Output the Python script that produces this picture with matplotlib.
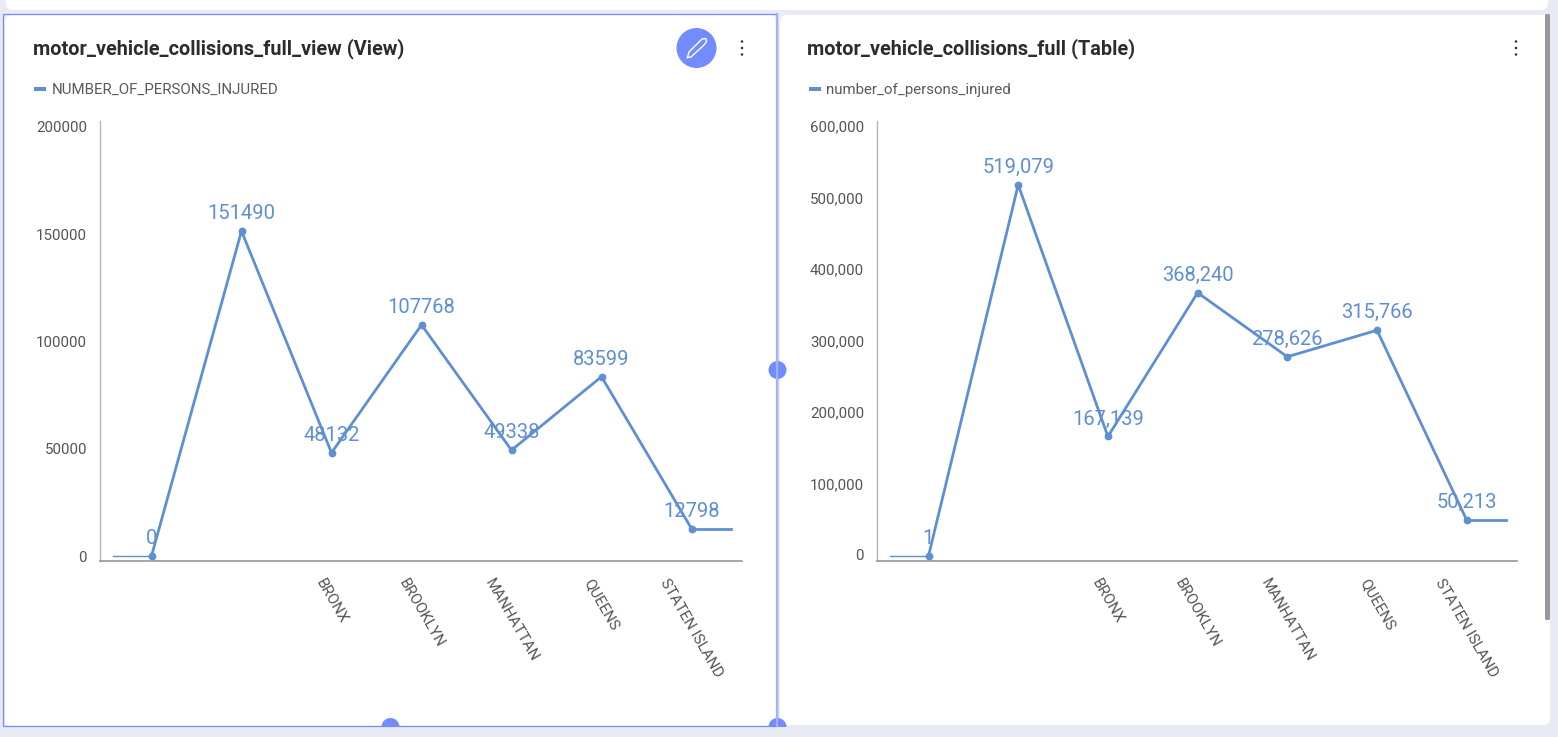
import matplotlib
matplotlib.use("Agg")
import matplotlib.pyplot as plt
from matplotlib.patches import Circle, FancyBboxPatch, Rectangle
from matplotlib.transforms import ScaledTranslation

plt.rcParams["font.family"] = ["Roboto", "DejaVu Sans"]

W, H = 1558, 737
BLUE = "#5f8fd3"
ACCENT = "#728dfb"

categories = ["", "", "BRONX", "BROOKLYN", "MANHATTAN", "QUEENS", "STATEN ISLAND"]

view_values = [0, 151490, 48132, 107768, 49338, 83599, 12798]
view_ticks = [0, 50000, 100000, 150000, 200000]
view_tick_labels = ["0", "50000", "100000", "150000", "200000"]
view_point_labels = ["0", "151490", "48132", "107768", "49338", "83599", "12798"]

table_values = [1, 519079, 167139, 368240, 278626, 315766, 50213]
table_ticks = [0, 100000, 200000, 300000, 400000, 500000, 600000]
table_tick_labels = ["0", "100,000", "200,000", "300,000", "400,000", "500,000", "600,000"]
table_point_labels = ["1", "519,079", "167,139", "368,240", "278,626", "315,766", "50,213"]


def card(bg, x0, y0, x1, y1, radius=7):
    bg.add_patch(FancyBboxPatch((x0 + radius, y0 + radius), x1 - x0 - 2 * radius, y1 - y0 - 2 * radius,
                                boxstyle="round,pad=%d,rounding_size=%d" % (radius, radius),
                                fc="white", ec="none"))


def dots(bg, x):
    for y in [41.5, 48, 54.5]:
        bg.add_patch(Circle((x, y), 1.3, fc="#3c3c3c", ec="none"))


def chart(left, right, first_x, step, values, ticks, tick_labels, point_labels, per_unit, nudge_px):
    # axes box is placed in pixels, y=0 of the data sits at pixel row 556
    top, bottom, zero = 121, 561, 556
    ax = fig.add_axes([left / W, 1 - bottom / H, (right - left) / W, (bottom - top) / H])
    ax.patch.set_alpha(0)
    ax.set_xlim((left - first_x) / step, (right - first_x) / step)
    ax.set_ylim((zero - bottom) / per_unit, (zero - top) / per_unit)

    xs = list(range(len(values)))
    ax.plot(xs, values, color=BLUE, lw=2.0, marker="o", ms=4.6, mec=BLUE, clip_on=False)
    # short stubs either side of the line
    ax.plot([xs[0] - 0.43, xs[0] - 0.03], [values[0], values[0]], color=BLUE, lw=1.0, clip_on=False)
    ax.plot([xs[-1] + 0.04, xs[-1] + 0.44], [values[-1], values[-1]], color=BLUE, lw=2.0, clip_on=False)

    for x, v, label in zip(xs, values, point_labels):
        ax.annotate(label, (x, v), xytext=(0, 12.6), textcoords="offset points", ha="center", va="center",
                    fontsize=14.5, color=BLUE)

    ax.set_yticks(ticks)
    ax.set_yticklabels(tick_labels)
    ax.set_xticks(xs)
    ax.set_xticklabels(categories, rotation=-60, ha="center", va="top")
    ax.tick_params(axis="y", length=0, pad=9.4, labelsize=10.9, labelcolor="#555555")
    ax.tick_params(axis="x", length=0, pad=11.2, labelsize=10.9, labelcolor="#555555")
    # small vertical correction for the y labels
    nudge = ScaledTranslation(0, nudge_px / 100, fig.dpi_scale_trans)
    for label in ax.get_yticklabels():
        label.set_transform(label.get_transform() + nudge)
    for side in ["top", "right"]:
        ax.spines[side].set_visible(False)
    ax.spines["left"].set_color("#b4b4b4")
    ax.spines["left"].set_linewidth(1.0)
    ax.spines["bottom"].set_color("#8e8e8e")
    ax.spines["bottom"].set_linewidth(1.1)
    return ax


fig = plt.figure(figsize=(W / 100, H / 100), dpi=100, facecolor="#e8ebf4")

# page furniture, drawn in pixel coordinates
bg = fig.add_axes([0, 0, 1, 1])
bg.set_xlim(0, W)
bg.set_ylim(H, 0)
bg.axis("off")

card(bg, 6, -20, 1548, 10)
card(bg, 5, 15, 777, 726)
card(bg, 780, 15, 1550, 725)
bg.add_patch(FancyBboxPatch((1546, 15), 3, 604, boxstyle="round,pad=1,rounding_size=1.5", fc="#999999", ec="none"))

# selected card outline and its handles
bg.add_patch(Rectangle((3.5, 13.5), 773.5, 712.5, fc="none", ec=ACCENT, lw=0.9))
bg.plot([777, 777], [14, 726], color="#a3b2fb", lw=1.6)
clip = Rectangle((0, 0), W, 726.5, transform=bg.transData)
for x, y in [(777.5, 370), (390.5, 727), (777.5, 727)]:
    handle = Circle((x, y), 9, fc=ACCENT, ec="none")
    bg.add_patch(handle)
    handle.set_clip_path(clip)

# edit button with pencil
bg.add_patch(Circle((696.5, 48), 20, fc=ACCENT, ec="none"))
bg.plot([687.5, 689, 702, 706, 706.5, 704, 691, 687.5], [57.5, 52, 39, 38.5, 41.5, 45, 57, 57.5], color="white", lw=1.0)
dots(bg, 742)
dots(bg, 1516)

bg.text(33, 48.5, "motor_vehicle_collisions_full_view (View)", fontsize=14.3, fontweight="bold",
        color="#2c2c2c", va="center", ha="left")
bg.text(807.5, 48.5, "motor_vehicle_collisions_full (Table)", fontsize=14.3, fontweight="bold",
        color="#2c2c2c", va="center", ha="left")

bg.add_patch(Rectangle((34, 87), 12, 3.5, fc=BLUE, ec="none"))
bg.add_patch(Rectangle((809, 87), 12, 3.5, fc=BLUE, ec="none"))
bg.text(52, 89.6, "NUMBER_OF_PERSONS_INJURED", fontsize=10.8, color="#5a5a5a", va="center", ha="left")
bg.text(826.5, 89.6, "number_of_persons_injured", fontsize=10.8, color="#5a5a5a", va="center", ha="left")

chart(100, 742, 151.5, 90, view_values, view_ticks, view_tick_labels, view_point_labels, 429 / 200000, 0)
chart(877, 1517, 928.5, 89.7, table_values, table_ticks, table_tick_labels, table_point_labels, 429 / 600000, 1)

fig.savefig("out.png", dpi=100, facecolor=fig.get_facecolor())
